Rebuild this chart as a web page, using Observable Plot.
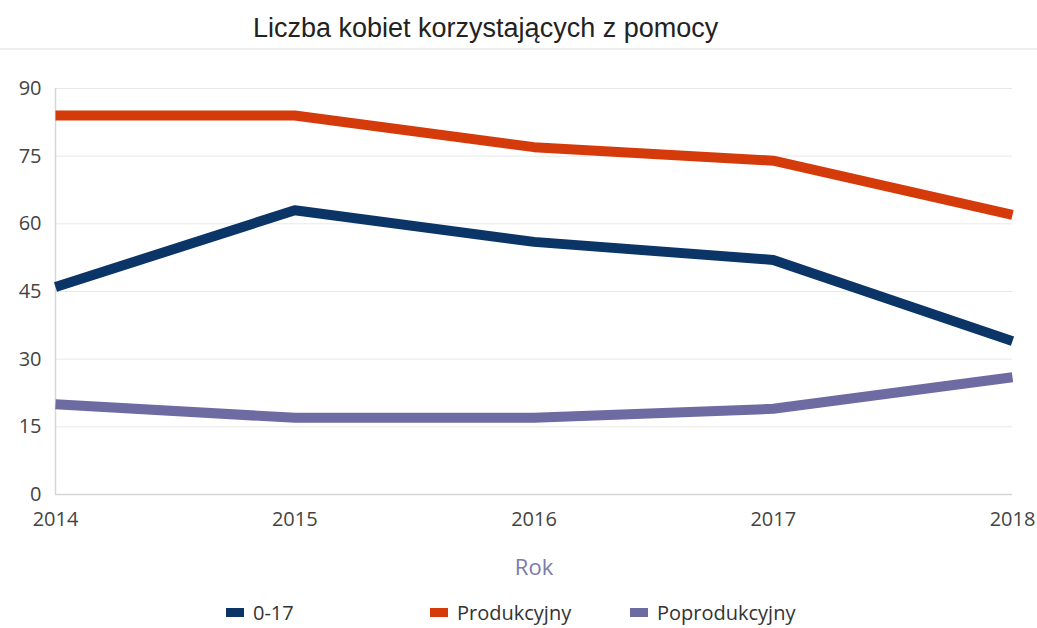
<!DOCTYPE html>
<html><head><meta charset="utf-8">
<script src="https://cdn.jsdelivr.net/npm/d3@7"></script>
<script src="https://cdn.jsdelivr.net/npm/@observablehq/plot@0.6"></script>
<style>
body{margin:0;background:#fff;font-family:"Open Sans",sans-serif;}
#title{height:48px;border-bottom:2px solid #eeeeee;box-sizing:content-box;font-family:"Liberation Sans",Arial,sans-serif;font-size:27px;color:#222;padding-left:253px;line-height:56px;white-space:nowrap;}
#legend{position:absolute;top:598px;left:0;width:1037px;height:28px;font-size:20px;color:#333;}
.item{position:absolute;top:0;display:flex;align-items:center;height:28px;}
.sw{width:18px;height:9px;margin-right:9px;}
</style></head>
<body>
<div id="title">Liczba kobiet korzystających z pomocy</div>
<div id="chart"></div>
<div id="legend"></div>
<script>
const years = [2014, 2015, 2016, 2017, 2018];
const seriesNames = ["0-17", "Produkcyjny", "Poprodukcyjny"];
const vals017 = [46, 63, 56, 52, 34];
const valsProd = [84, 84, 77, 74, 62];
const valsPoprod = [20, 17, 17, 19, 26];
const colors = ["#0b3566", "#d43a0a", "#6d6ba2"];
const yTicks = [0, 15, 30, 45, 60, 75, 90];

const allVals = [vals017, valsProd, valsPoprod];
const data = [];
seriesNames.forEach((s, i) => years.forEach((y, j) => data.push({series: s, year: y, value: allVals[i][j]})));

const plot = Plot.plot({
  width: 1037,
  height: 530,
  marginTop: 38,
  marginBottom: 86,
  marginLeft: 55,
  marginRight: 25,
  style: {fontFamily: "'Open Sans', sans-serif", fontSize: "20px", color: "#444", background: "#fff"},
  x: {domain: [2014, 2018], ticks: years, tickFormat: d => String(d), tickSize: 0, tickPadding: 17, label: "Rok", labelAnchor: "center", labelArrow: "none", labelOffset: 80},
  y: {domain: [0, 90], ticks: yTicks, tickSize: 0, tickPadding: 14, label: null},
  color: {domain: seriesNames, range: colors},
  marks: [
    Plot.gridY(yTicks, {stroke: "#e8e8e8", strokeOpacity: 1, strokeWidth: 1}),
    Plot.ruleX([2014], {stroke: "#d6d6d6", strokeWidth: 1.5}),
    Plot.ruleY([0], {stroke: "#d6d6d6", strokeWidth: 1.5}),
    Plot.axisX({ticks: years, tickFormat: d => String(d), tickSize: 0, tickPadding: 17, label: "Rok", labelAnchor: "center", labelArrow: "none", labelOffset: 80, fill: "#444"}),
    Plot.axisY({ticks: yTicks, tickSize: 0, tickPadding: 14, label: null, fill: "#444"}),
    Plot.line(data, {x: "year", y: "value", z: "series", stroke: "series", strokeWidth: 10, strokeLinecap: "butt", strokeLinejoin: "round"})
  ]
});
document.getElementById("chart").appendChild(plot);
plot.querySelectorAll("g[aria-label='x-axis label'] text").forEach(t => { t.setAttribute("fill", "#7b7aa8"); t.style.fontSize = "22px"; });

const legend = document.getElementById("legend");
const lefts = [226, 430, 630];
seriesNames.forEach((s, i) => {
  const it = document.createElement("div");
  it.className = "item";
  it.style.left = lefts[i] + "px";
  it.innerHTML = `<span class="sw" style="background:${colors[i]}"></span><span>${s}</span>`;
  legend.appendChild(it);
});
</script>
</body></html>
